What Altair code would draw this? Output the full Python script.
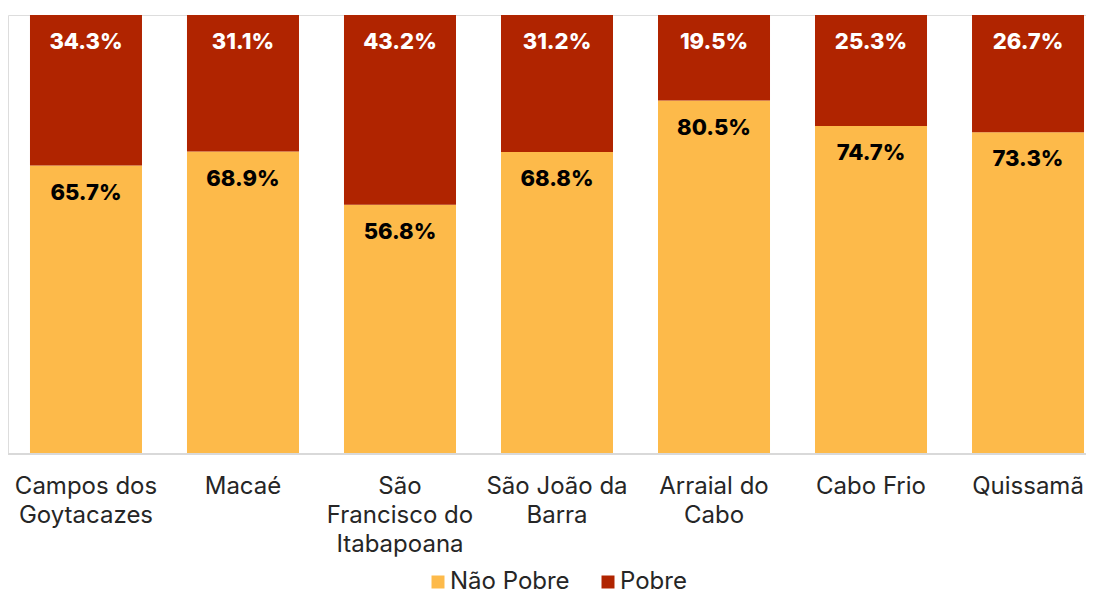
import altair as alt
import pandas as pd

categories = ["Campos dos|Goytacazes", "Macaé", "São|Francisco do|Itabapoana",
              "São João da|Barra", "Arraial do|Cabo", "Cabo Frio", "Quissamã"]
nao_pobre = [65.7, 68.9, 56.8, 68.8, 80.5, 74.7, 73.3]
pobre = [34.3, 31.1, 43.2, 31.2, 19.5, 25.3, 26.7]
series = ["Não Pobre", "Pobre"]
colors = ["#FDBA4A", "#B02400"]

rows = []
for c, a, b in zip(categories, nao_pobre, pobre):
    rows.append({"cat": c, "serie": "Não Pobre", "val": a, "ord": 0, "top": a})
    rows.append({"cat": c, "serie": "Pobre", "val": b, "ord": 1, "top": a + b})
df = pd.DataFrame(rows)

FONT = "Inter"
W, H = 1078, 439

xsc = alt.Scale(domain=categories, range=[0, 1098], paddingInner=0.2866, paddingOuter=0.14)
ysc = alt.Scale(domain=[0, 100], nice=False)

base = alt.Chart(df)

bars = base.mark_bar().encode(
    x=alt.X("cat:N", scale=xsc, sort=categories,
            axis=alt.Axis(title=None, domain=False, ticks=False, labelAngle=0,
                          labelExpr="split(datum.value, '|')",
                          labelFont=FONT, labelFontSize=24, labelColor="#262626",
                          labelLineHeight=29, labelPadding=20, labelOverlap=False,
                          labelLimit=0, labelBaseline="top")),
    y=alt.Y("val:Q", stack="zero", scale=ysc, axis=None),
    color=alt.Color("serie:N", scale=alt.Scale(domain=series, range=colors),
                    legend=alt.Legend(title=None, orient="none", direction="horizontal",
                                      legendX=418, legendY=555, symbolType="square",
                                      symbolSize=169, symbolStrokeWidth=0,
                                      labelFont=FONT, labelFontSize=24,
                                      labelColor="#262626", columnPadding=26,
                                      labelOffset=0)),
    order=alt.Order("ord:Q"),
)

labels = base.mark_text(font=FONT, fontSize=22, fontWeight=800, dy=27,
                        baseline="middle").encode(
    x=alt.X("cat:N", scale=xsc, sort=categories),
    y=alt.Y("top:Q", scale=ysc),
    color=alt.Color("serie:N", scale=alt.Scale(domain=series, range=["#000000", "#FFFFFF"]),
                    legend=None),
).transform_calculate(txt="format(datum.val, '.1f') + '%'").encode(text="txt:N")

axis_line = alt.Chart(pd.DataFrame({"y0": [0]})).mark_rule(color="#D9D9D9", strokeWidth=2).encode(
    x=alt.value(0), x2=alt.value(W), y=alt.value(H))

chart = alt.layer(bars, labels, axis_line).resolve_scale(color="independent").properties(
    width=W, height=H, autosize=alt.AutoSizeParams(type="none"),
    padding={"left": 0, "top": 7, "right": 0, "bottom": 142},
).configure_view(stroke=None).configure(font=FONT)

chart.save("out.html", embed_options={"renderer": "svg", "actions": False})
